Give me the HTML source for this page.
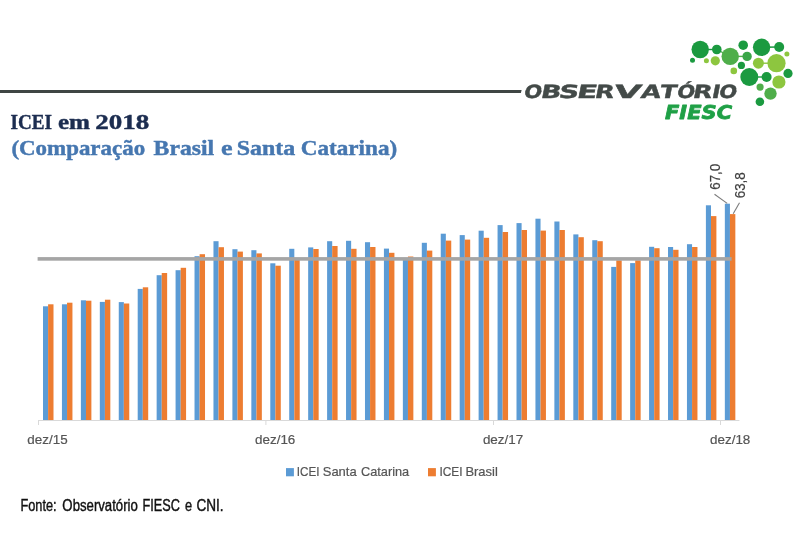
<!DOCTYPE html>
<html lang="pt-BR">
<head>
<meta charset="utf-8">
<title>ICEI em 2018</title>
<style>
html,body{margin:0;padding:0;background:#fff;}
body{width:800px;height:533px;overflow:hidden;position:relative;}
svg{position:absolute;left:0;top:0;display:block;}
.sans{font-family:"Liberation Sans","DejaVu Sans",sans-serif;}
.obs{position:absolute;left:0;top:0;width:0;height:0;font-family:"DejaVu Sans","Liberation Sans",sans-serif;font-weight:bold;font-size:18.2px;color:#434a48;-webkit-text-stroke:0.4px #434a48;line-height:1;white-space:nowrap;}
.obs span{position:absolute;top:83px;display:block;height:18.2px;line-height:18.2px;transform-origin:0 15.4px;}
.serif{font-family:"Liberation Serif","DejaVu Serif",serif;}
</style>
</head>
<body>
<svg width="800" height="533" viewBox="0 0 800 533">
<rect x="0" y="0" width="800" height="533" fill="#ffffff"/>
<!-- header line -->
<polygon points="0,89.9 521.6,89.9 520.9,93 0,93" fill="#3f4644"/>
<!-- logo text -->
<g font-family="'DejaVu Sans','Liberation Sans',sans-serif" font-weight="bold" font-style="italic">
<text id="fiesc" transform="translate(665,118.8) scale(1.095,1)" font-size="19.2" fill="#1fa046" stroke="#1fa046" stroke-width="0.8" stroke-linejoin="round">FIESC</text>
</g>
<!-- logo circles -->
<g id="logo">
<line x1="700.2" y1="49.5" x2="716.8" y2="49.5" stroke="#1b9a40" stroke-width="1.4"/>
<line x1="730.2" y1="56.4" x2="747.1" y2="56.4" stroke="#4fae4a" stroke-width="1.4"/>
<line x1="761.6" y1="47.3" x2="779.2" y2="47" stroke="#1b9a40" stroke-width="1.4"/>
<line x1="758.4" y1="63.2" x2="776.5" y2="63.2" stroke="#8dc63f" stroke-width="1.4"/>
<line x1="749.3" y1="77" x2="766.6" y2="77" stroke="#1b9a40" stroke-width="1.4"/>
<line x1="716.8" y1="49.5" x2="730.2" y2="56.4" stroke="#4fae4a" stroke-width="1.4"/>
<circle cx="700.2" cy="49.5" r="8.7" fill="#1b9a40"/>
<circle cx="716.8" cy="49.5" r="4.8" fill="#1b9a40"/>
<circle cx="692.5" cy="60.3" r="2.5" fill="#1b9a40"/>
<circle cx="706.4" cy="60.8" r="2.5" fill="#8dc63f"/>
<circle cx="715.3" cy="60.8" r="4.6" fill="#8dc63f"/>
<circle cx="730.2" cy="56.4" r="8.7" fill="#4fae4a"/>
<circle cx="743.2" cy="45.2" r="4.8" fill="#1b9a40"/>
<circle cx="747.1" cy="56.4" r="4.7" fill="#3aa648"/>
<circle cx="761.6" cy="47.3" r="8.7" fill="#1b9a40"/>
<circle cx="779.2" cy="47" r="5" fill="#1b9a40"/>
<circle cx="786.9" cy="54.1" r="2.5" fill="#8dc63f"/>
<circle cx="758.4" cy="63.2" r="5.5" fill="#8dc63f"/>
<circle cx="776.5" cy="63.2" r="9.1" fill="#8dc63f"/>
<circle cx="741.4" cy="65.4" r="3.6" fill="#1b9a40"/>
<circle cx="733.8" cy="70.9" r="3.3" fill="#8dc63f"/>
<circle cx="749.3" cy="77" r="9" fill="#1b9a40"/>
<circle cx="766.6" cy="77" r="5" fill="#1b9a40"/>
<circle cx="778.9" cy="82" r="6.6" fill="#8dc63f"/>
<circle cx="788" cy="73.4" r="4.6" fill="#1b9a40"/>
<circle cx="760.1" cy="87.1" r="3.6" fill="#4fae4a"/>
<circle cx="770.5" cy="93.6" r="6.2" fill="#4fae4a"/>
<circle cx="759.9" cy="101.8" r="4.3" fill="#1b9a40"/>
</g>
<!-- titles -->
<g class="serif" font-weight="bold">
<g id="t1" fill="#1c2d50" stroke="#1c2d50" stroke-width="0.45"><text transform="translate(10.54,128.7) scale(0.8797,1)" font-size="21.8">ICEI</text> <text transform="translate(57.89,128.7) scale(1.1495,1)" font-size="21.8">em</text> <text transform="translate(95.24,128.7) scale(1.2405,1)" font-size="21.8">2018</text></g>
<g id="t2" fill="#4677b0" stroke="#4677b0" stroke-width="0.45"><text transform="translate(11.41,155.0) scale(1.0523,1)" font-size="21.8">(Comparação</text> <text transform="translate(153.59,155.0) scale(1.0864,1)" font-size="21.8">Brasil</text> <text transform="translate(221.00,155.0) scale(1.1940,1)" font-size="21.8">e</text> <text transform="translate(236.80,155.0) scale(1.0982,1)" font-size="21.8">Santa</text> <text transform="translate(300.77,155.0) scale(1.0622,1)" font-size="21.8">Catarina)</text></g>
</g>
<!-- axis -->
<rect x="38" y="420" width="701.4" height="1" fill="#d9d9d9"/>
<g fill="#d9d9d9">
<rect x="38" y="420" width="1" height="5"/>
<rect x="265.4" y="420" width="1" height="5"/>
<rect x="493" y="420" width="1" height="5"/>
<rect x="720" y="420" width="1" height="5"/>
</g>
<!-- bars -->
<g id="bars" shape-rendering="auto">
<rect x="43.00" y="306.3" width="5.1" height="113.7" fill="#5b9bd5"/>
<rect x="48.10" y="304.3" width="5.4" height="115.7" fill="#ed7d31"/>
<rect x="61.94" y="304.3" width="5.1" height="115.7" fill="#5b9bd5"/>
<rect x="67.04" y="302.7" width="5.4" height="117.3" fill="#ed7d31"/>
<rect x="80.88" y="300.3" width="5.1" height="119.7" fill="#5b9bd5"/>
<rect x="85.98" y="300.7" width="5.4" height="119.3" fill="#ed7d31"/>
<rect x="99.82" y="301.9" width="5.1" height="118.1" fill="#5b9bd5"/>
<rect x="104.92" y="299.7" width="5.4" height="120.3" fill="#ed7d31"/>
<rect x="118.76" y="302.1" width="5.1" height="117.9" fill="#5b9bd5"/>
<rect x="123.86" y="303.5" width="5.4" height="116.5" fill="#ed7d31"/>
<rect x="137.70" y="288.9" width="5.1" height="131.1" fill="#5b9bd5"/>
<rect x="142.80" y="287.3" width="5.4" height="132.7" fill="#ed7d31"/>
<rect x="156.64" y="275.2" width="5.1" height="144.8" fill="#5b9bd5"/>
<rect x="161.74" y="273.0" width="5.4" height="147.0" fill="#ed7d31"/>
<rect x="175.58" y="270.2" width="5.1" height="149.8" fill="#5b9bd5"/>
<rect x="180.68" y="267.8" width="5.4" height="152.2" fill="#ed7d31"/>
<rect x="194.52" y="256.2" width="5.1" height="163.8" fill="#5b9bd5"/>
<rect x="199.62" y="254.2" width="5.4" height="165.8" fill="#ed7d31"/>
<rect x="213.46" y="241.2" width="5.1" height="178.8" fill="#5b9bd5"/>
<rect x="218.56" y="247.2" width="5.4" height="172.8" fill="#ed7d31"/>
<rect x="232.40" y="249.2" width="5.1" height="170.8" fill="#5b9bd5"/>
<rect x="237.50" y="251.6" width="5.4" height="168.4" fill="#ed7d31"/>
<rect x="251.34" y="250.2" width="5.1" height="169.8" fill="#5b9bd5"/>
<rect x="256.44" y="253.4" width="5.4" height="166.6" fill="#ed7d31"/>
<rect x="270.28" y="263.3" width="5.1" height="156.7" fill="#5b9bd5"/>
<rect x="275.38" y="265.7" width="5.4" height="154.3" fill="#ed7d31"/>
<rect x="289.22" y="248.8" width="5.1" height="171.2" fill="#5b9bd5"/>
<rect x="294.32" y="259.0" width="5.4" height="161.0" fill="#ed7d31"/>
<rect x="308.16" y="247.4" width="5.1" height="172.6" fill="#5b9bd5"/>
<rect x="313.26" y="249.0" width="5.4" height="171.0" fill="#ed7d31"/>
<rect x="327.10" y="241.2" width="5.1" height="178.8" fill="#5b9bd5"/>
<rect x="332.20" y="246.0" width="5.4" height="174.0" fill="#ed7d31"/>
<rect x="346.04" y="240.8" width="5.1" height="179.2" fill="#5b9bd5"/>
<rect x="351.14" y="248.8" width="5.4" height="171.2" fill="#ed7d31"/>
<rect x="364.98" y="242.2" width="5.1" height="177.8" fill="#5b9bd5"/>
<rect x="370.08" y="247.0" width="5.4" height="173.0" fill="#ed7d31"/>
<rect x="383.92" y="248.6" width="5.1" height="171.4" fill="#5b9bd5"/>
<rect x="389.02" y="252.8" width="5.4" height="167.2" fill="#ed7d31"/>
<rect x="402.86" y="260.0" width="5.1" height="160.0" fill="#5b9bd5"/>
<rect x="407.96" y="256.5" width="5.4" height="163.5" fill="#ed7d31"/>
<rect x="421.80" y="242.8" width="5.1" height="177.2" fill="#5b9bd5"/>
<rect x="426.90" y="250.6" width="5.4" height="169.4" fill="#ed7d31"/>
<rect x="440.74" y="233.7" width="5.1" height="186.3" fill="#5b9bd5"/>
<rect x="445.84" y="240.6" width="5.4" height="179.4" fill="#ed7d31"/>
<rect x="459.68" y="235.1" width="5.1" height="184.9" fill="#5b9bd5"/>
<rect x="464.78" y="239.6" width="5.4" height="180.4" fill="#ed7d31"/>
<rect x="478.62" y="230.7" width="5.1" height="189.3" fill="#5b9bd5"/>
<rect x="483.72" y="237.8" width="5.4" height="182.2" fill="#ed7d31"/>
<rect x="497.56" y="225.1" width="5.1" height="194.9" fill="#5b9bd5"/>
<rect x="502.66" y="232.0" width="5.4" height="188.0" fill="#ed7d31"/>
<rect x="516.50" y="223.1" width="5.1" height="196.9" fill="#5b9bd5"/>
<rect x="521.60" y="230.0" width="5.4" height="190.0" fill="#ed7d31"/>
<rect x="535.44" y="218.7" width="5.1" height="201.3" fill="#5b9bd5"/>
<rect x="540.54" y="230.6" width="5.4" height="189.4" fill="#ed7d31"/>
<rect x="554.38" y="221.5" width="5.1" height="198.5" fill="#5b9bd5"/>
<rect x="559.48" y="230.0" width="5.4" height="190.0" fill="#ed7d31"/>
<rect x="573.32" y="234.4" width="5.1" height="185.6" fill="#5b9bd5"/>
<rect x="578.42" y="237.2" width="5.4" height="182.8" fill="#ed7d31"/>
<rect x="592.26" y="240.2" width="5.1" height="179.8" fill="#5b9bd5"/>
<rect x="597.36" y="241.2" width="5.4" height="178.8" fill="#ed7d31"/>
<rect x="611.20" y="266.9" width="5.1" height="153.1" fill="#5b9bd5"/>
<rect x="616.30" y="260.3" width="5.4" height="159.7" fill="#ed7d31"/>
<rect x="630.14" y="263.1" width="5.1" height="156.9" fill="#5b9bd5"/>
<rect x="635.24" y="260.3" width="5.4" height="159.7" fill="#ed7d31"/>
<rect x="649.08" y="246.8" width="5.1" height="173.2" fill="#5b9bd5"/>
<rect x="654.18" y="248.2" width="5.4" height="171.8" fill="#ed7d31"/>
<rect x="668.02" y="247.0" width="5.1" height="173.0" fill="#5b9bd5"/>
<rect x="673.12" y="249.8" width="5.4" height="170.2" fill="#ed7d31"/>
<rect x="686.96" y="244.2" width="5.1" height="175.8" fill="#5b9bd5"/>
<rect x="692.06" y="247.0" width="5.4" height="173.0" fill="#ed7d31"/>
<rect x="705.90" y="205.3" width="5.1" height="214.7" fill="#5b9bd5"/>
<rect x="711.00" y="216.1" width="5.4" height="203.9" fill="#ed7d31"/>
<rect x="724.84" y="203.7" width="5.1" height="216.3" fill="#5b9bd5"/>
<rect x="729.94" y="214.1" width="5.4" height="205.9" fill="#ed7d31"/>
</g>
<!-- reference line -->
<rect x="37.6" y="257.1" width="694" height="3.6" fill="#a5a5a5"/>
<!-- data labels -->
<g stroke="#7c7c7c" stroke-width="1.1" fill="none">
<line x1="714.5" y1="194.2" x2="727.2" y2="203.4"/>
<line x1="739.5" y1="202.7" x2="733.2" y2="213.8"/>
</g>
<g class="sans" font-size="14.2" fill="#3e3e3e" stroke="#3e3e3e" stroke-width="0.2">
<text id="l1" transform="translate(720.2,189.8) rotate(-90) scale(0.945,1)">67,0</text>
<text id="l2" transform="translate(744.9,198.3) rotate(-90) scale(0.945,1)">63,8</text>
</g>
<!-- axis labels -->
<g class="sans" font-size="13.3" fill="#555555" stroke="#555555" stroke-width="0.2">
<text id="a1" transform="translate(27.3,444.2) scale(1.01,1)">dez/15</text>
<text id="a2" transform="translate(255.0,444.2) scale(1.01,1)">dez/16</text>
<text id="a3" transform="translate(482.9,444.2) scale(1.01,1)">dez/17</text>
<text id="a4" transform="translate(710.0,444.2) scale(1.01,1)">dez/18</text>
</g>
<!-- legend -->
<rect x="286.0" y="468.1" width="7.9" height="8.2" fill="#5b9bd5"/>
<rect x="428.0" y="468.1" width="7.9" height="8.2" fill="#ed7d31"/>
<g class="sans" fill="#555555" stroke="#555555" stroke-width="0.2">
<g id="g1"><text transform="translate(296.80,476.3) scale(0.9285,1)" font-size="12.6">ICEI</text> <text transform="translate(322.72,476.3) scale(1.0328,1)" font-size="12.6">Santa</text> <text transform="translate(360.97,476.3) scale(1.0135,1)" font-size="12.6">Catarina</text></g>
<g id="g2"><text transform="translate(439.38,476.3) scale(0.9465,1)" font-size="12.6">ICEI</text> <text transform="translate(465.41,476.3) scale(1.0295,1)" font-size="12.6">Brasil</text></g>
</g>
<!-- source -->
<g id="src" class="sans" fill="#111111" stroke="#111111" stroke-width="0.4"><text transform="translate(20.43,510.6) scale(0.8180,1)" font-size="15.6">Fonte:</text> <text transform="translate(62.37,510.6) scale(0.8460,1)" font-size="15.6">Observatório</text> <text transform="translate(142.43,510.6) scale(0.8159,1)" font-size="15.6">FIESC</text> <text transform="translate(184.94,510.6) scale(0.8205,1)" font-size="15.6">e</text> <text transform="translate(196.49,510.6) scale(0.8705,1)" font-size="15.6">CNI.</text></g>
</svg>
<div id="obs" class="obs"><span style="left:523.23px;transform:skewX(-11deg) scaleX(1.172)">O</span><span style="left:539.75px;transform:skewX(-11deg) scaleX(1.465)">B</span><span style="left:558.10px;transform:skewX(-11deg) scaleX(1.529)">S</span><span style="left:575.55px;transform:skewX(-11deg) scaleX(1.644)">E</span><span style="left:593.89px;transform:skewX(-11deg) scaleX(1.378)">R</span><span style="left:613.42px;transform:skewX(-11deg) scaleX(1.942)">V</span><span style="left:640.07px;transform:skewX(-11deg) scaleX(1.424)">A</span><span style="left:658.78px;transform:skewX(-11deg) scaleX(1.349)">T</span><span style="left:676.23px;transform:skewX(-11deg) scaleX(1.172)">Ó</span><span style="left:692.49px;transform:skewX(-11deg) scaleX(1.378)">R</span><span style="left:710.54px;transform:skewX(-11deg) scaleX(1.227)">I</span><span style="left:717.83px;transform:skewX(-11deg) scaleX(1.172)">O</span></div>
</body>
</html>
